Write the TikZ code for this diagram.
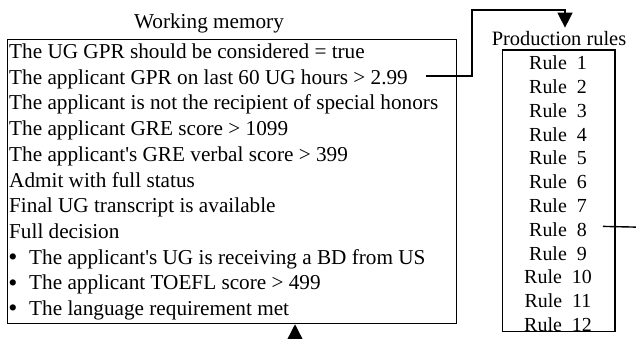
\documentclass[tikz,border=0pt]{standalone}
\usepackage{fontspec}
\setmainfont{Liberation Serif}
\usetikzlibrary{arrows.meta}
\newcommand{\sq}{\XeTeXglyph\XeTeXglyphindex "quotesingle"\relax}
\begin{document}
\begin{tikzpicture}[x=1bp,y=-1bp,
  txt/.style={inner sep=0pt,anchor=base west,font=\fontsize{21.3}{25}\selectfont},
  rtxt/.style={inner sep=0pt,anchor=base,font=\fontsize{20}{24}\selectfont},
  ttl/.style={inner sep=0pt,anchor=base,font=\fontsize{20.5}{24}\selectfont},
  bul/.style={inner sep=0pt,anchor=base,font=\fontsize{26}{26}\selectfont},
  box/.style={draw,line width=1.5bp,inner sep=0pt},
  conn/.style={line width=1.4bp},
  tip/.style={-{Triangle[length=15bp,width=15bp]}}]
\useasboundingbox (0,0) rectangle (636,338);
\clip (0,0) rectangle (636,338);
% boxes
\node[box,minimum width=449.4bp,minimum height=284.2bp] (wm) at (232,181.4) {};
\node[box,minimum width=112.3bp,minimum height=281.5bp] (pr) at (558.85,190.75) {};
% titles
\node[ttl,font=\fontsize{21.3}{25}\selectfont] (wtitle) at (209,28.5) {Working memory};
\node[ttl] (ptitle) at (559,45) {Production rules};
% working memory lines
\node[txt] (l1) at (9,58.5) {The UG GPR should be considered = true};
\node[txt] (l2) at (9,84.2) {The applicant GPR on last 60 UG hours > 2.99};
\node[txt] (l3) at (9,109.9) {The applicant is not the recipient of special honors};
\node[txt] (l4) at (9,135.6) {The applicant GRE score > 1099};
\node[txt] (l5) at (9,161.3) {The applicant\sq s GRE verbal score > 399};
\node[txt] (l6) at (9,187.0) {Admit with full status};
\node[txt] (l7) at (9,212.7) {Final UG transcript is available};
\node[txt] (l8) at (9,238.4) {Full decision};
\node[bul] (b9) at (13,265.5) {•};
\node[txt] (l9) at (29,264.1) {The applicant\sq s UG is receiving a BD from US};
\node[bul] (b10) at (13,291.2) {•};
\node[txt] (l10) at (29,289.8) {The applicant TOEFL score > 499};
\node[bul] (b11) at (13,316.9) {•};
\node[txt] (l11) at (29,315.5) {The language requirement met};
% rules
\foreach \i in {1,...,12}{
  \node[rtxt] (r\i) at (558,69.6+23.8*\i-23.8) {Rule\ \ \i};
}
% connectors
\coordinate (k1) at (472,10);
\draw[conn,tip] ([xshift=18bp,yshift=3bp]l2.east) -| (k1) -| ([xshift=6bp,yshift=3bp]ptitle.north);
\coordinate (k2) at (645,227.3);
\draw[conn] ([xshift=16bp,yshift=3bp]r8.east) -- (k2);
\coordinate (k3) at (295,350);
\draw[conn,tip] (k3) -- (wm.south -| k3);
\end{tikzpicture}
\end{document}
